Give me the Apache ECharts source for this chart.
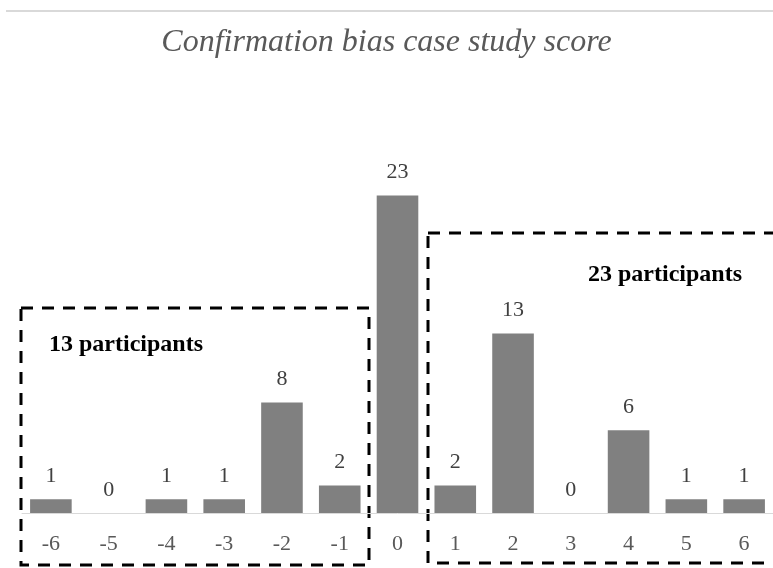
<!DOCTYPE html>
<html>
<head>
<meta charset="utf-8">
<script src="https://cdn.jsdelivr.net/npm/echarts@6/dist/echarts.min.js"></script>
<style>html,body{margin:0;padding:0;background:#fff;}#c{width:773px;height:568px;}</style>
</head>
<body>
<div id="c"></div>
<script>
var categories = ['-6','-5','-4','-3','-2','-1','0','1','2','3','4','5','6'];
var counts = [1,0,1,1,8,2,23,2,13,0,6,1,1];
var titleText = 'Confirmation bias case study score';
var leftNote = '13 participants';
var rightNote = '23 participants';

var chart = echarts.init(document.getElementById('c'));
var serif = '"Liberation Serif", "Times New Roman", serif';
chart.setOption({
  animation: false,
  backgroundColor: '#fff',
  title: {
    text: titleText, left: 'center', top: 22,
    textStyle: {fontFamily: serif, fontStyle: 'italic', fontWeight: 'normal', fontSize: 32, color: '#595959'}
  },
  grid: {left: 22, top: 168, width: 757, height: 345, containLabel: false},
  xAxis: {
    type: 'category', data: categories,
    axisLine: {lineStyle: {color: '#d9d9d9', width: 1}},
    axisTick: {show: false},
    axisLabel: {fontFamily: serif, fontSize: 22, color: '#595959', margin: 20}
  },
  yAxis: {type: 'value', min: 0, max: 25, show: false, splitLine: {show: false}},
  series: [{
    type: 'bar', data: counts, barCategoryGap: '28%',
    itemStyle: {color: '#808080'},
    label: {show: true, position: 'top', distance: 12, fontFamily: serif, fontSize: 22, color: '#404040'}
  }],
  graphic: [
    {type: 'line', shape: {x1: 6, y1: 11, x2: 773, y2: 11}, style: {stroke: '#d9d9d9', lineWidth: 2}},
    {type: 'rect', shape: {x: 21, y: 308, width: 348, height: 257}, style: {fill: 'none', stroke: '#000', lineWidth: 3, lineDash: [12, 9]}},
    {type: 'rect', shape: {x: 428, y: 233, width: 360, height: 330}, style: {fill: 'none', stroke: '#000', lineWidth: 3, lineDash: [12, 9]}},
    {type: 'text', left: 49, top: 333, style: {text: leftNote, font: 'bold 24px ' + serif, fill: '#000'}},
    {type: 'text', left: 588, top: 263, style: {text: rightNote, font: 'bold 24px ' + serif, fill: '#000'}}
  ]
});
</script>
</body>
</html>
